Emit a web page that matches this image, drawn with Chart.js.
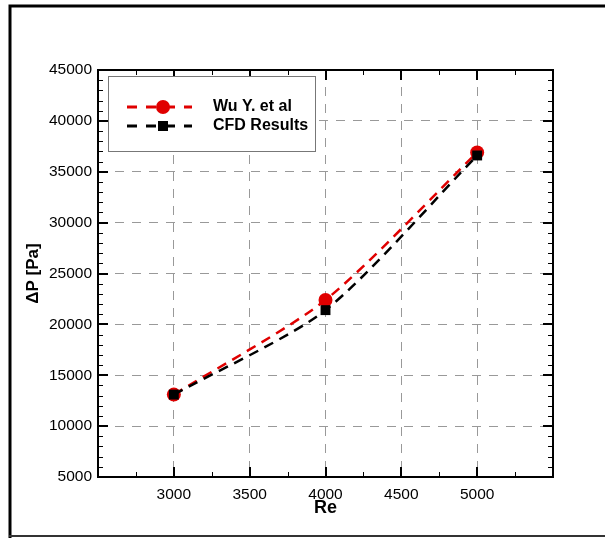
<!DOCTYPE html>
<html><head><meta charset="utf-8">
<script src="https://cdn.jsdelivr.net/npm/chart.js@4"></script>
<style>html,body{margin:0;padding:0;background:#fff;overflow:hidden}</style>
</head><body>
<canvas id="c" width="605" height="538" style="display:block;width:605px;height:538px"></canvas>
<script>
const reValues = [3000, 4000, 5000];
const wuValues = [13100, 22400, 36900];
const cfdValues = [13100, 21400, 36600];
const xTickLabels = [3000, 3500, 4000, 4500, 5000];
const yTickLabels = [5000, 10000, 15000, 20000, 25000, 30000, 35000, 40000, 45000];
const seriesNames = ['Wu Y. et al', 'CFD Results'];
const xTitle = 'Re';
const yTitle = '\u0394P [Pa]';

const FONT = "'Liberation Sans', Arial, Helvetica, sans-serif";

const decorPlugin = {
  id: 'decor',
  afterDraw(chart) {
    const {ctx, chartArea: a, scales: {x, y}} = chart;
    ctx.save();
    // outer frame
    ctx.strokeStyle = '#000';
    ctx.lineWidth = 3;
    ctx.beginPath(); ctx.moveTo(10, 538); ctx.lineTo(10, 6); ctx.lineTo(605, 6); ctx.stroke();
    ctx.strokeStyle = '#333';
    ctx.lineWidth = 2;
    ctx.beginPath(); ctx.moveTo(9, 536); ctx.lineTo(605, 536); ctx.stroke();

    // ticks (inward, mirrored)
    ctx.strokeStyle = '#000';
    ctx.lineWidth = 1;
    ctx.beginPath();
    for (let v = x.min + 250; v < x.max; v += 250) {
      if (v % 500 === 0) continue;
      const px = Math.round(x.getPixelForValue(v)) + 0.5;
      ctx.moveTo(px, a.bottom); ctx.lineTo(px, a.bottom - 5);
      ctx.moveTo(px, a.top); ctx.lineTo(px, a.top + 5);
    }
    for (let v = y.min + 1000; v < y.max; v += 1000) {
      if (v % 5000 === 0) continue;
      const py = Math.round(y.getPixelForValue(v)) + 0.5;
      ctx.moveTo(a.left, py); ctx.lineTo(a.left + 5, py);
      ctx.moveTo(a.right, py); ctx.lineTo(a.right - 5, py);
    }
    ctx.stroke();
    ctx.lineWidth = 2;
    ctx.beginPath();
    xTickLabels.forEach(v => {
      const px = Math.round(x.getPixelForValue(v));
      ctx.moveTo(px, a.bottom); ctx.lineTo(px, a.bottom - 10);
      ctx.moveTo(px, a.top); ctx.lineTo(px, a.top + 10);
    });
    yTickLabels.forEach(v => {
      const py = Math.round(y.getPixelForValue(v));
      ctx.moveTo(a.left, py); ctx.lineTo(a.left + 10, py);
      ctx.moveTo(a.right, py); ctx.lineTo(a.right - 10, py);
    });
    ctx.stroke();
    // plot frame
    ctx.lineWidth = 2;
    ctx.strokeRect(a.left, a.top, a.right - a.left, a.bottom - a.top);

    // legend box
    const bx = a.left + 10, by = a.top + 6, bw = 207, bh = 75;
    ctx.fillStyle = '#fff';
    ctx.fillRect(bx, by, bw, bh);
    ctx.strokeStyle = '#777';
    ctx.lineWidth = 1;
    ctx.strokeRect(bx + 0.5, by + 0.5, bw, bh);
    chart.data.datasets.forEach((ds, i) => {
      const ry = by + 31 + i * 19;
      const lx0 = bx + 19, lx1 = bx + 84, mx = bx + 55;
      ctx.save();
      ctx.strokeStyle = ds.borderColor;
      ctx.lineWidth = 3;
      ctx.setLineDash([10, 9]);
      ctx.beginPath(); ctx.moveTo(lx0, ry); ctx.lineTo(lx1, ry); ctx.stroke();
      ctx.restore();
      ctx.fillStyle = ds.pointBackgroundColor;
      if (ds.pointStyle === 'circle') {
        ctx.beginPath(); ctx.arc(mx, ry, 7, 0, Math.PI * 2); ctx.fill();
      } else {
        ctx.fillRect(mx - 5, ry - 5, 10, 10);
      }
      ctx.fillStyle = '#000';
      ctx.font = 'bold 16px ' + FONT;
      ctx.textBaseline = 'middle';
      ctx.textAlign = 'left';
      ctx.fillText(ds.label, bx + 105, ry);
    });
    ctx.restore();
  }
};

new Chart(document.getElementById('c'), {
  type: 'line',
  data: {
    datasets: [
      {
        label: seriesNames[0],
        data: reValues.map((r, i) => ({x: r, y: wuValues[i]})),
        borderColor: '#e00000',
        backgroundColor: '#e00000',
        pointBackgroundColor: '#e00000',
        pointBorderColor: '#e00000',
        pointStyle: 'circle',
        pointRadius: 7,
        pointBorderWidth: 0,
        borderWidth: 2.5,
        borderDash: [10, 7],
        tension: 0.25,
        fill: false,
        order: 1
      },
      {
        label: seriesNames[1],
        data: reValues.map((r, i) => ({x: r, y: cfdValues[i]})),
        borderColor: '#000000',
        backgroundColor: '#000000',
        pointBackgroundColor: '#000000',
        pointBorderColor: '#000000',
        pointStyle: 'rect',
        pointRadius: 7,
        pointBorderWidth: 0,
        borderWidth: 2.5,
        borderDash: [10, 7],
        tension: 0.25,
        fill: false,
        order: 0
      }
    ]
  },
  options: {
    responsive: false,
    devicePixelRatio: 1,
    animation: false,
    layout: {padding: {top: 70, right: 52, left: 0, bottom: 0}},
    plugins: {legend: {display: false}, tooltip: {enabled: false}},
    scales: {
      x: {
        type: 'linear',
        min: 2500, max: 5500,
        afterFit(s) { s.height = 61; },
        ticks: {
          stepSize: 500,
          autoSkip: false,
          maxRotation: 0,
          padding: 8,
          color: '#000',
          font: {family: FONT, size: 15.5},
          callback: v => xTickLabels.includes(v) ? String(v) : ''
        },
        grid: {
          drawTicks: false,
          lineWidth: 1,
          color: c => (c.tick && xTickLabels.includes(c.tick.value)) ? '#999' : 'rgba(0,0,0,0)'
        },
        border: {display: false, dash: [9, 8]},
        title: {
          display: true, text: xTitle, color: '#000',
          font: {family: FONT, size: 18, weight: 'bold'},
          padding: {top: 0, bottom: 19}
        }
      },
      y: {
        type: 'linear',
        min: 5000, max: 45000,
        afterFit(s) { s.width = 98; },
        ticks: {
          stepSize: 5000,
          autoSkip: false,
          padding: 6,
          color: '#000',
          font: {family: FONT, size: 15.5},
          callback: v => yTickLabels.includes(v) ? String(v) : ''
        },
        grid: {
          drawTicks: false,
          lineWidth: 1,
          color: c => (c.tick && c.tick.value > 5000 && c.tick.value < 45000) ? '#999' : 'rgba(0,0,0,0)'
        },
        border: {display: false, dash: [9, 8]},
        title: {
          display: true, text: yTitle, color: '#000',
          font: {family: FONT, size: 17, weight: 'bold'},
          padding: {top: 23, bottom: 0}
        }
      }
    }
  },
  plugins: [decorPlugin]
});
</script>
</body></html>
